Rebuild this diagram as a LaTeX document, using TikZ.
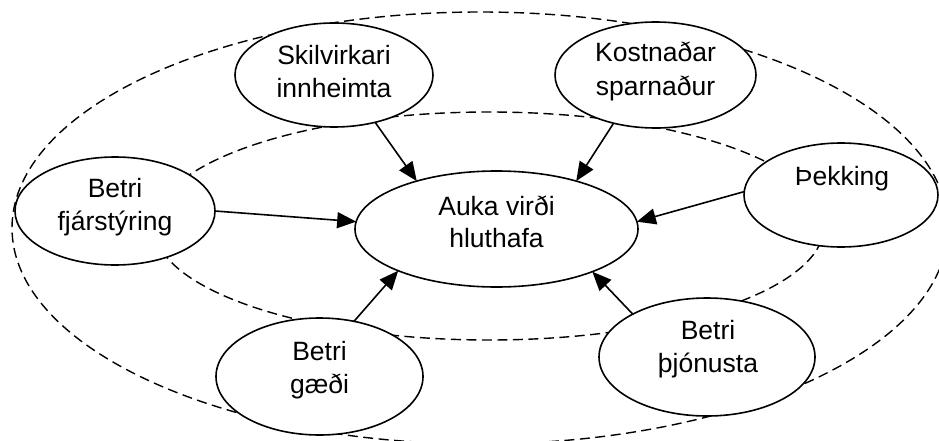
\documentclass[tikz,border=0pt]{standalone}
\usepackage{fontspec}
\setmainfont{Liberation Sans}
\usetikzlibrary{arrows.meta,shapes.geometric}
% line strut: 18.5pt above and 12.5pt below the baseline, 31pt in all
\newcommand{\lnstrut}{\rule[-12.5pt]{0pt}{31pt}}
\begin{document}
\begin{tikzpicture}[x=1pt,y=-1pt,
  ring/.style={line width=1.4pt, dash pattern=on 10pt off 5.5pt},
  bubble/.style={ellipse, draw, fill=white, line width=1.6pt, inner sep=0pt, outer sep=0pt},
  lbl/.style={align=center, inner sep=0pt, font=\fontsize{26.5}{31}\selectfont},
  feed/.style={line width=1.6pt, -{Triangle[length=19pt,width=16pt]}}
]
\useasboundingbox (0,0) rectangle (939,441);
\clip (0,0) rectangle (939,441);

% the two dashed rings
\draw[ring] (480,228) ellipse [x radius=468pt, y radius=216pt];
\draw[ring] (489,226) ellipse [x radius=335pt, y radius=114pt];

% ellipses
\node[bubble, minimum width=283pt, minimum height=116pt] (goal)  at (496.5,229) {};
\node[bubble, minimum width=198pt, minimum height=104pt] (skil)  at (334,75) {};
\node[bubble, minimum width=201pt, minimum height=106pt] (kost)  at (655.5,75) {};
\node[bubble, minimum width=200pt, minimum height=108pt] (fjar)  at (115,211) {};
\node[bubble, minimum width=194pt, minimum height=104pt] (thek)  at (841,195) {};
\node[bubble, minimum width=207pt, minimum height=117pt] (gaedi) at (319.5,376.5) {};
\node[bubble, minimum width=216pt, minimum height=118pt] (thjon) at (707,357) {};

% texts
\node[lbl] (goalT)  at (496.5,228)   {\lnstrut Auka virði\\\lnstrut hluthafa};
\node[lbl] (skilT)  at (334,77.5)    {\lnstrut Skilvirkari\\\lnstrut innheimta};
\node[lbl] (kostT)  at (655.5,75)    {\lnstrut Kostnaðar\\\lnstrut sparnaður};
\node[lbl] (fjarT)  at (115,211)     {\lnstrut Betri\\\lnstrut fjárstýring};
\node[lbl] (thekT)  at (842,182)     {\lnstrut Þekking};
\node[lbl] (gaediT) at (319.5,373.5) {\lnstrut Betri\\\lnstrut gæði};
\node[lbl] (thjonT) at (708,352.5)   {\lnstrut Betri\\\lnstrut þjónusta};

% arrows into the centre
\draw[feed] (skil.-49)  -- (goal.149);
\draw[feed] (kost.-131) -- (goal.31);
\draw[feed] (fjar.0)    -- (goal.177);
\draw[feed] (thek.178)  -- (goal.3);
\draw[feed] (gaedi.58)  -- (goal.-157);
\draw[feed] (thjon.150) -- (goal.-24);
\end{tikzpicture}
\end{document}
